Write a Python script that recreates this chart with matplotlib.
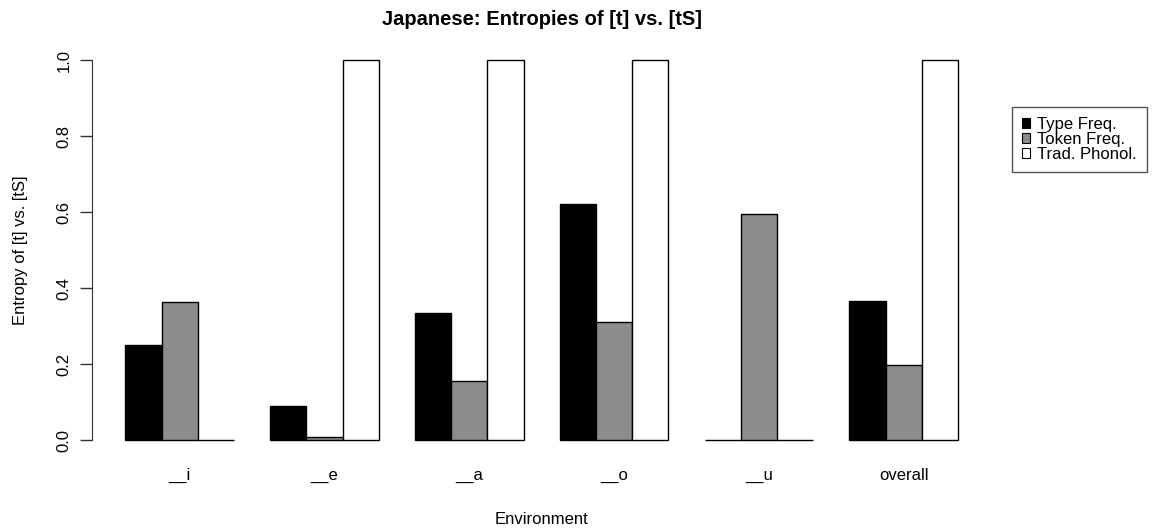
import numpy as np
import matplotlib
matplotlib.use("Agg")
import matplotlib.pyplot as plt
from matplotlib.patches import Patch

plt.rcParams['font.family'] = ['Liberation Sans', 'DejaVu Sans']

environments = ["__i", "__e", "__a", "__o", "__u", "overall"]
type_freq = [0.25, 0.09, 0.335, 0.62, 0.0, 0.365]
token_freq = [0.363, 0.008, 0.155, 0.31, 0.595, 0.197]
trad_phonol = [0.0, 1.0, 1.0, 1.0, 0.0, 1.0]

series = [("Type Freq.", type_freq, "black"),
          ("Token Freq.", token_freq, "#8c8c8c"),
          ("Trad. Phonol.", trad_phonol, "white")]

fig = plt.figure(figsize=(11.52, 5.29), dpi=100)
ax = fig.add_axes([92 / 1152, 0.1395, (991.4 - 92) / 1152, 0.9153 - 0.1395])

# barplot(beside=TRUE) layout: bars of width 1, one unit gap before each group
n_groups = len(environments)
starts = 1 + 4 * np.arange(n_groups)
for k, (name, vals, col) in enumerate(series):
    ax.bar(starts + k, vals, width=1.0, align='edge', color=col,
           edgecolor='black', linewidth=1.0)

ax.set_xlim(0.08, 24.92)
ax.set_ylim(-0.04, 1.04)

ax.set_xticks(starts + 1.5)
ax.set_xticklabels(environments, fontsize=12)
ax.tick_params(axis='x', length=0, pad=9)

yt = np.arange(0, 1.01, 0.2)
ax.set_yticks(yt)
ax.set_yticklabels(["%.1f" % v for v in yt], rotation=90, va='center', fontsize=12)
ax.tick_params(axis='y', length=8.5, width=1.0, pad=6, color='#333333')

for side in ['top', 'right', 'bottom']:
    ax.spines[side].set_visible(False)
ax.spines['left'].set_bounds(0, 1)
ax.spines['left'].set_color('#333333')

ax.set_title("Japanese: Entropies of [t] vs. [tS]", fontsize=14.5, fontweight='bold', pad=14)
ax.set_xlabel("Environment", fontsize=12, labelpad=21)
ax.set_ylabel("Entropy of [t] vs. [tS]", fontsize=12, labelpad=21)

handles = [Patch(facecolor=col, edgecolor='black', linewidth=0.8, label=name)
           for name, vals, col in series]
fig.legend(handles=handles, loc='upper left',
           bbox_to_anchor=(1012 / 1152, 1 - 107 / 529),
           bbox_transform=fig.transFigure, fontsize=12,
           handlelength=0.5, handleheight=0.5, handletextpad=0.4,
           labelspacing=0.0, borderpad=0.6, borderaxespad=0,
           fancybox=False, framealpha=1, edgecolor='#555555')

fig.savefig("out.png", dpi=100)
